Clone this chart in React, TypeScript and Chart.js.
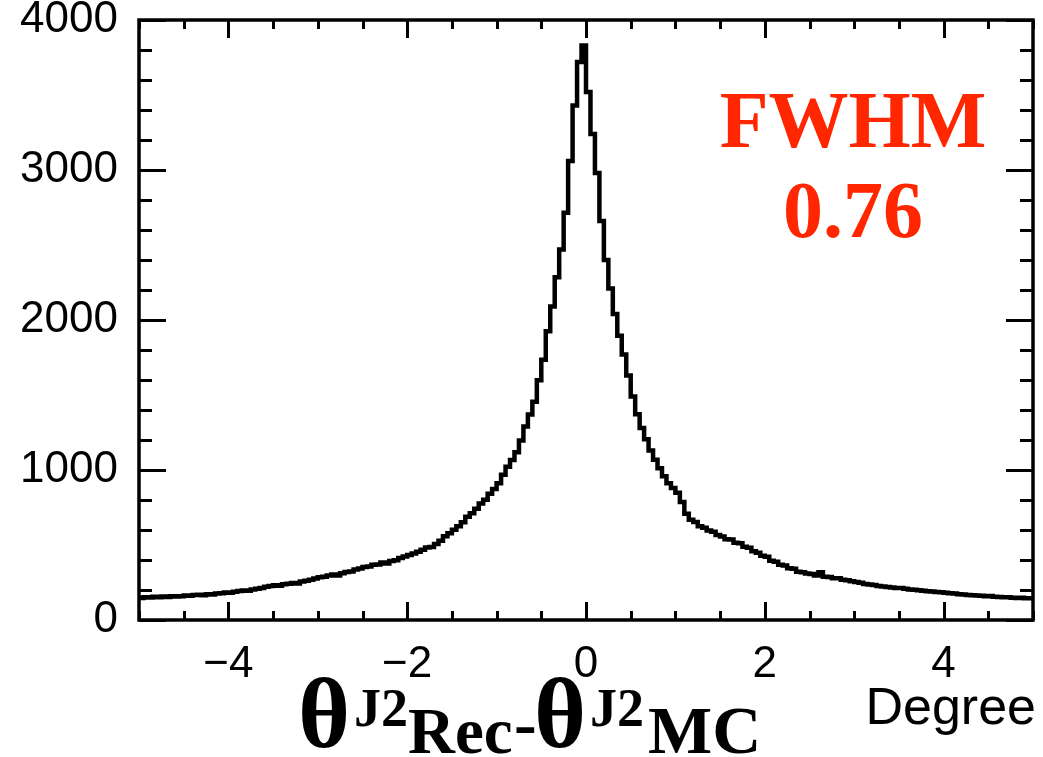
import React, { useEffect, useRef } from 'react';
import { Chart, registerables } from 'chart.js';

Chart.register(...registerables);

// Histogram: 200 bins of 0.05 degree from -5 to 5
const binLow = -5;
const binHigh = 5;
const binWidth = 0.05;
const counts: number[] = [
  148, 146, 152, 150, 155, 151, 157, 154, 159, 156,
  158, 163, 161, 166, 168, 165, 172, 170, 176, 179,
  184, 181, 189, 193, 197, 195, 204, 208, 214, 222,
  226, 231, 228, 238, 242, 247, 244, 256, 262, 268,
  276, 285, 288, 297, 303, 296, 312, 320, 324, 337,
  343, 354, 356, 368, 370, 383, 377, 394, 399, 414,
  423, 434, 444, 455, 468, 484, 486, 506, 528, 558,
  578, 601, 625, 651, 688, 712, 741, 776, 801, 842,
  873, 912, 968, 1021, 1066, 1118, 1196, 1290, 1370, 1455,
  1598, 1735, 1925, 2090, 2285, 2470, 2715, 3060, 3430, 3720,
  3830, 3520, 3240, 2980, 2660, 2400, 2210, 2040, 1895, 1770,
  1630, 1490, 1372, 1280, 1205, 1130, 1068, 1012, 958, 912,
  880, 848, 786, 708, 668, 654, 625, 615, 596, 588,
  566, 556, 538, 536, 515, 512, 489, 481, 459, 448,
  428, 421, 395, 389, 369, 363, 345, 341, 322, 319,
  310, 307, 296, 318, 289, 286, 278, 279, 268, 265,
  258, 253, 248, 240, 236, 233, 226, 224, 220, 216,
  213, 214, 208, 204, 202, 198, 195, 192, 190, 187,
  185, 182, 178, 176, 172, 170, 167, 165, 163, 161,
  158, 160, 155, 153, 151, 152, 148, 146, 149, 145,
];

const xMajorTicks = [-4, -2, 0, 2, 4];
const xMinorStep = 0.5;
const yMin = 0;
const yMax = 4000;
const yMajorTicks = [0, 1000, 2000, 3000, 4000];
const yMinorStep = 200;

const fwhmLabel = 'FWHM';
const fwhmValue = '0.76';
const unitLabel = 'Degree';

const W = 1043;
const H = 757;

const framePlugin = {
  id: 'rootFrame',
  afterDatasetsDraw(chart: any) {
    const { ctx, chartArea, scales } = chart;
    const { left, right, top, bottom } = chartArea;
    const xs = scales.x;
    const ys = scales.y;
    ctx.save();
    ctx.strokeStyle = '#000';
    ctx.lineWidth = 3;
    ctx.lineCap = 'butt';
    const nX = Math.round((binHigh - binLow) / xMinorStep);
    for (let i = 0; i <= nX; i++) {
      const v = binLow + i * xMinorStep;
      const major = xMajorTicks.some((t) => Math.abs(t - v) < 1e-6);
      const len = major ? 18 : 9;
      const px = Math.round(xs.getPixelForValue(v)) + 0.5;
      ctx.beginPath();
      ctx.moveTo(px, bottom);
      ctx.lineTo(px, bottom - len);
      ctx.moveTo(px, top);
      ctx.lineTo(px, top + len);
      ctx.stroke();
    }
    const nY = Math.round((yMax - yMin) / yMinorStep);
    for (let i = 0; i <= nY; i++) {
      const v = yMin + i * yMinorStep;
      const major = yMajorTicks.some((t) => Math.abs(t - v) < 1e-6);
      const len = major ? 27 : 13;
      const py = Math.round(ys.getPixelForValue(v)) + 0.5;
      ctx.beginPath();
      ctx.moveTo(left, py);
      ctx.lineTo(left + len, py);
      ctx.moveTo(right, py);
      ctx.lineTo(right - len, py);
      ctx.stroke();
    }
    ctx.lineWidth = 3.5;
    ctx.strokeRect(left, top, right - left, bottom - top);
    ctx.restore();
  },
};

function fmtNum(v: number): string {
  return v < 0 ? '\u2212' + String(Math.abs(v)) : String(v);
}

function Txt(props: {
  x: number;
  baseline: number;
  size: number;
  family: string;
  weight?: string;
  color?: string;
  align?: 'left' | 'center' | 'right';
  k: number;
  children: React.ReactNode;
}) {
  const { x, baseline, size, family, weight, color, align, k, children } = props;
  const style: React.CSSProperties = {
    position: 'absolute',
    top: baseline - k * size,
    lineHeight: 0,
    whiteSpace: 'nowrap',
    fontFamily: family,
    fontSize: size,
    fontWeight: (weight as any) || 'normal',
    color: color || '#000',
  };
  if (align === 'right') {
    style.right = W - x;
  } else if (align === 'center') {
    style.left = x;
    style.transform = 'translateX(-50%)';
  } else {
    style.left = x;
  }
  return <div style={style}>{children}</div>;
}

const SERIF = '"Liberation Serif", "Times New Roman", serif';
const SANS = '"Liberation Sans", Arial, Helvetica, sans-serif';
const KSERIF = 0.3375;
const KSANS = 0.3465;

export default function App() {
  const canvasRef = useRef<HTMLCanvasElement | null>(null);

  useEffect(() => {
    if (!canvasRef.current) return;
    const pts = counts.map((c, i) => ({ x: binLow + i * binWidth, y: c }));
    pts.push({ x: binHigh, y: counts[counts.length - 1] });
    const tickFont = { family: SANS, size: 44 };
    const chart = new Chart(canvasRef.current, {
      type: 'line',
      data: {
        datasets: [
          {
            data: pts,
            borderColor: '#000',
            borderWidth: 4.5,
            pointRadius: 0,
            stepped: 'after',
            fill: false,
            tension: 0,
          },
        ],
      },
      options: {
        animation: false,
        responsive: false,
        devicePixelRatio: 1,
        layout: { padding: { top: 20, right: 10, left: 0, bottom: 0 } },
        plugins: {
          legend: { display: false },
          tooltip: { enabled: false },
          title: { display: false },
        },
        scales: {
          x: {
            type: 'linear',
            min: binLow,
            max: binHigh,
            grid: { display: false, drawTicks: false },
            border: { display: false },
            ticks: {
              color: '#000',
              font: tickFont,
              padding: 18,
              maxRotation: 0,
              autoSkip: false,
              callback: (v: any) => fmtNum(Number(v)),
            },
            afterBuildTicks: (s: any) => {
              s.ticks = xMajorTicks.map((v) => ({ value: v }));
            },
            afterFit: (s: any) => {
              s.height = H - 620;
              s.paddingLeft = 0;
              s.paddingRight = 0;
            },
          },
          y: {
            type: 'linear',
            min: yMin,
            max: yMax,
            grid: { display: false, drawTicks: false },
            border: { display: false },
            ticks: {
              color: '#000',
              font: tickFont,
              padding: 21,
              autoSkip: false,
              callback: (v: any) => fmtNum(Number(v)),
            },
            afterBuildTicks: (s: any) => {
              s.ticks = yMajorTicks.map((v) => ({ value: v }));
            },
            afterFit: (s: any) => {
              s.width = 139;
              s.paddingTop = 0;
              s.paddingBottom = 0;
            },
          },
        },
      },
      plugins: [framePlugin],
    } as any);
    return () => chart.destroy();
  }, []);

  const red = 'rgb(255, 38, 0)';
  return (
    <div style={{ position: 'fixed', left: 0, top: 0, width: W, height: H, background: '#fff', overflow: 'hidden' }}>
      <canvas ref={canvasRef} width={W} height={H} style={{ display: 'block' }} />
      <Txt x={853} baseline={147} size={80} family={SERIF} weight="bold" color={red} align="center" k={KSERIF}>
        {fwhmLabel}
      </Txt>
      <Txt x={853} baseline={237} size={80} family={SERIF} weight="bold" color={red} align="center" k={KSERIF}>
        {fwhmValue}
      </Txt>
      <Txt x={1036} baseline={724} size={52} family={SANS} align="right" k={KSANS}>
        {unitLabel}
      </Txt>
      <Txt x={298} baseline={748} size={100} family={SERIF} weight="bold" k={KSERIF}>θ</Txt>
      <Txt x={354} baseline={726} size={54} family={SERIF} weight="bold" k={KSERIF}>J2</Txt>
      <Txt x={408} baseline={753} size={65} family={SERIF} weight="bold" k={KSERIF}>Rec</Txt>
      <Txt x={514} baseline={746} size={68} family={SERIF} weight="bold" k={KSERIF}>-</Txt>
      <Txt x={534} baseline={748} size={100} family={SERIF} weight="bold" k={KSERIF}>θ</Txt>
      <Txt x={590} baseline={726} size={54} family={SERIF} weight="bold" k={KSERIF}>J2</Txt>
      <Txt x={648} baseline={753} size={68} family={SERIF} weight="bold" k={KSERIF}>MC</Txt>
    </div>
  );
}
